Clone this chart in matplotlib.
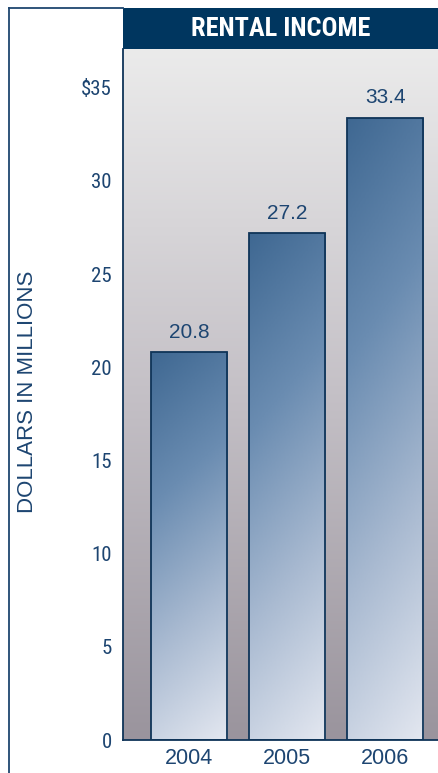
import numpy as np
import matplotlib.pyplot as plt
from matplotlib.colors import LinearSegmentedColormap
from matplotlib.patches import Rectangle
from matplotlib.lines import Line2D

# rental income, $ millions
years = ['2004', '2005', '2006']
income = [20.8, 27.2, 33.4]
y_ticks = [0, 5, 10, 15, 20, 25, 30, 35]
y_tick_labels = ['0', '5', '10', '15', '20', '25', '30', '$35']

NAVY = '#00365f'
TEXT = '#1d4571'
NARROW = ['Roboto Condensed', 'DejaVu Sans']
REGULAR = ['Liberation Sans', 'DejaVu Sans']

W, H = 439, 773
fig = plt.figure(figsize=(W / 100, H / 100), dpi=100)
fig.patch.set_facecolor('white')

ax = fig.add_axes([123 / W, (H - 740) / H, (W - 123) / W, (740 - 49) / H])
ax.set_xlim(-0.673, 2.55)
ax.set_ylim(0, 37.08)

# background: light grey at top fading to mauve grey at bottom
bg_cmap = LinearSegmentedColormap.from_list('bg', ['#9a949d', '#c4c0c6', '#ebebeb'])
grad = np.linspace(0, 1, 256).reshape(-1, 1)
ax.imshow(grad, cmap=bg_cmap, aspect='auto', origin='lower',
          extent=[0, 1, 0, 1], transform=ax.transAxes, zorder=0)

# bars with a diagonal blue gradient
bar_cmap = LinearSegmentedColormap.from_list('bar', ['#e3e7f0', '#a9bad1', '#6a8cb1', '#3f6892'])
x = np.arange(len(years))
bars = ax.bar(x, income, width=0.776, facecolor='none', edgecolor='#0f3458',
              linewidth=1.3, zorder=3)
gy, gx = np.mgrid[0:1:200j, 0:1:60j]
diag = np.clip(0.85 * gy + 0.15 * (1 - gx), 0, 1)
for b, val in zip(bars, income):
    x0 = b.get_x()
    im = ax.imshow(diag, cmap=bar_cmap, aspect='auto', origin='lower',
                   extent=[x0, x0 + b.get_width(), 0, val], zorder=2)
    im.set_clip_path(b)
    ax.text(b.get_x() + b.get_width() / 2, val + 0.55, f'{val:.1f}',
            ha='center', va='bottom', fontsize=15, color=TEXT, family=REGULAR)

ax.set_xticks(x)
ax.set_xticklabels(years, fontsize=15.5, color=TEXT, family=REGULAR)
ax.set_yticks(y_ticks)
ax.set_yticklabels(y_tick_labels, fontsize=15, color=TEXT, family=NARROW)
ax.tick_params(axis='both', length=0)
ax.tick_params(axis='y', pad=8)
ax.tick_params(axis='x', pad=6)

for side in ['top', 'right']:
    ax.spines[side].set_visible(False)
for side in ['left', 'bottom']:
    ax.spines[side].set_color('#0f3458')
    ax.spines[side].set_linewidth(1.3)
    ax.spines[side].set_zorder(4)

# title banner
fig.patches.append(Rectangle((123 / W, (H - 49) / H), (W - 123) / W, 41 / H,
                             transform=fig.transFigure, facecolor=NAVY,
                             edgecolor='none', zorder=1))
fig.text((123 + W) / 2 / W, (H - 29) / H, 'RENTAL INCOME', ha='center', va='center',
         fontsize=19, fontweight='bold', color='white', family=NARROW)

# frame lines on the left and top
fig.lines.append(Line2D([9.5 / W, 9.5 / W], [0, (H - 8) / H], transform=fig.transFigure,
                        color='#1f4670', linewidth=1.3))
fig.lines.append(Line2D([9.5 / W, 123 / W], [(H - 8) / H, (H - 8) / H],
                        transform=fig.transFigure, color='#1f4670', linewidth=1.3))

fig.text(28 / W, (H - 392) / H, 'DOLLARS IN MILLIONS', rotation=90, ha='center',
         va='center', fontsize=16, color=TEXT, family=REGULAR)

fig.savefig('out.png', dpi=100)
